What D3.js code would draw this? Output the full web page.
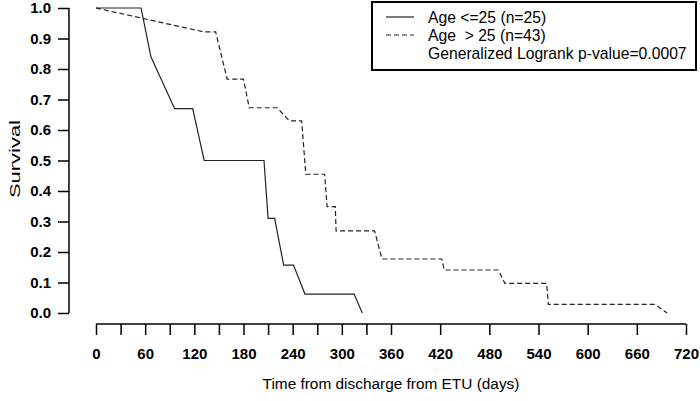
<!DOCTYPE html>
<html><head><meta charset="utf-8">
<script src="https://cdn.jsdelivr.net/npm/d3@7"></script>
<style>body{margin:0;background:#fff}svg{display:block}</style>
</head><body>
<script>
const youngTimes = [0,55,67,96,118,132,205,210,218,229,241,255,315,325];
const youngSurv  = [1,1,0.84,0.67,0.67,0.50,0.50,0.31,0.31,0.157,0.157,0.062,0.062,0];
const oldTimes = [0,131,146,160,180,187,221,236,251,256,279,282,292,293,340,349,422,425,491,499,550,552,682,697];
const oldSurv  = [1,0.922,0.922,0.767,0.767,0.673,0.673,0.630,0.630,0.455,0.455,0.349,0.349,0.269,0.269,0.177,0.177,0.141,0.141,0.097,0.097,0.028,0.028,0];
const xMinorTicks = [0,30,60,90,120,150,180,210,240,270,300,330,360,420,480,540,600,660,720];
const xLabelTicks = [0,60,120,180,240,300,360,420,480,540,600,660,720];
const yTicks = [0,0.1,0.2,0.3,0.4,0.5,0.6,0.7,0.8,0.9,1.0];
const legendLabels = ["Age <=25 (n=25)", "Age  > 25 (n=43)", "Generalized Logrank p-value=0.0007"];

const W=700,H=401;
const svg=d3.select("body").append("svg").attr("width",W).attr("height",H);
const x=d3.scaleLinear().domain([0,720]).range([96,686]);
const y=d3.scaleLinear().domain([0,1]).range([313,8]);
const font="Liberation Sans, Arial, sans-serif";

// y axis
const ya=svg.append("g").attr("transform","translate(69,0)")
  .call(d3.axisLeft(y).tickValues(yTicks).tickFormat(d3.format(".1f")).tickSize(11).tickPadding(7));
ya.select(".domain").attr("stroke","#000").attr("stroke-width",1.5).attr("d",`M0,${y(0)}V${y(1)}`);
ya.selectAll(".tick line").attr("stroke","#000").attr("stroke-width",1.5);
ya.selectAll(".tick text").attr("font-family",font).attr("font-size",15).attr("font-weight","bold").attr("fill","#000");

// x axis
const xa=svg.append("g").attr("transform","translate(0,324)")
  .call(d3.axisBottom(x).tickValues(xMinorTicks).tickFormat(d=>xLabelTicks.includes(d)?d:"").tickSize(11).tickPadding(13));
xa.select(".domain").attr("stroke","#000").attr("stroke-width",1.5).attr("d",`M${x(0)},0H${x(720)}`);
xa.selectAll(".tick line").attr("stroke","#000").attr("stroke-width",1.5);
xa.selectAll(".tick text").attr("font-family",font).attr("font-size",15).attr("font-weight","bold").attr("fill","#000");

// titles
svg.append("text").attr("x",391).attr("y",389).attr("text-anchor","middle")
  .attr("font-family",font).attr("font-size",15.4).text("Time from discharge from ETU (days)");
svg.append("text").attr("transform","translate(20,159) rotate(-90)").attr("text-anchor","middle")
  .attr("font-family",font).attr("font-size",15.5).attr("textLength",78).attr("lengthAdjust","spacingAndGlyphs").text("Survival");

// curves
const line=d3.line().x(d=>x(d[0])).y(d=>y(d[1]));
svg.append("path").datum(youngTimes.map((t,i)=>[t,youngSurv[i]]))
  .attr("d",line).attr("fill","none").attr("stroke","#222").attr("stroke-width",1.2);
svg.append("path").datum(oldTimes.map((t,i)=>[t,oldSurv[i]]))
  .attr("d",line).attr("fill","none").attr("stroke","#222").attr("stroke-width",1.2).attr("stroke-dasharray","5,3");

// legend
const lg=svg.append("g");
lg.append("rect").attr("x",372).attr("y",2).attr("width",324).attr("height",68)
  .attr("fill","#fff").attr("stroke","#000").attr("stroke-width",2);
lg.append("line").attr("x1",386).attr("x2",414).attr("y1",17).attr("y2",17).attr("stroke","#222").attr("stroke-width",1.2);
lg.append("line").attr("x1",386).attr("x2",414).attr("y1",35).attr("y2",35).attr("stroke","#222").attr("stroke-width",1.2).attr("stroke-dasharray","5,3");
legendLabels.forEach((t,i)=>{
  lg.append("text").attr("x",428).attr("y",23+i*18).attr("font-family",font).attr("font-size",15.7)
    .attr("xml:space","preserve").style("white-space","pre").text(t);
});
</script>
</body></html>
